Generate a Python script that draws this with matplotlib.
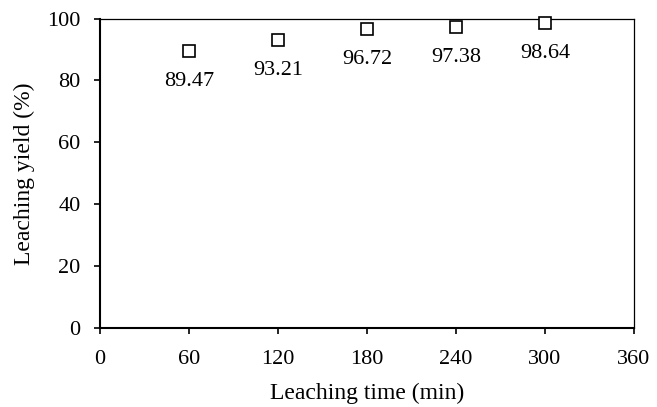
import matplotlib
matplotlib.use("Agg")
import matplotlib.pyplot as plt

time_min = [60, 120, 180, 240, 300]
yield_pct = [89.47, 93.21, 96.72, 97.38, 98.64]
labels = ["89.47", "93.21", "96.72", "97.38", "98.64"]
xticks = [0, 60, 120, 180, 240, 300, 360]
yticks = [0, 20, 40, 60, 80, 100]

plt.rcParams['font.family'] = ['Liberation Serif', 'DejaVu Serif']
fs = 16

fig = plt.figure(figsize=(6.57, 4.07), dpi=100)
ax = fig.add_axes([0.1522, 0.1941, 0.8128, 0.7604])

ax.plot(time_min, yield_pct, linestyle='none', marker='s', markersize=8.5,
        markerfacecolor='white', markeredgecolor='black', markeredgewidth=1.2,
        clip_on=False, zorder=5)
for x, y, t in zip(time_min, yield_pct, labels):
    ax.annotate(t, (x, y), xytext=(0, -22), textcoords='offset points',
                ha='center', va='center', fontsize=fs)

ax.set_xlim(0, 360)
ax.set_ylim(0, 100)
ax.set_xticks(xticks)
ax.set_yticks(yticks)
ax.tick_params(direction='out', length=4, width=1.2, labelsize=fs, pad=10)
ax.tick_params(axis='x', top=False, pad=12)
ax.tick_params(axis='y', right=False)
for s in ['left', 'bottom']:
    ax.spines[s].set_linewidth(1.5)
for s in ['top', 'right']:
    ax.spines[s].set_linewidth(0.9)
ax.set_xlabel('Leaching time (min)', fontsize=17, labelpad=10)
ax.set_ylabel('Leaching yield (%)', fontsize=17, labelpad=9)

fig.savefig('out.png', dpi=100)
